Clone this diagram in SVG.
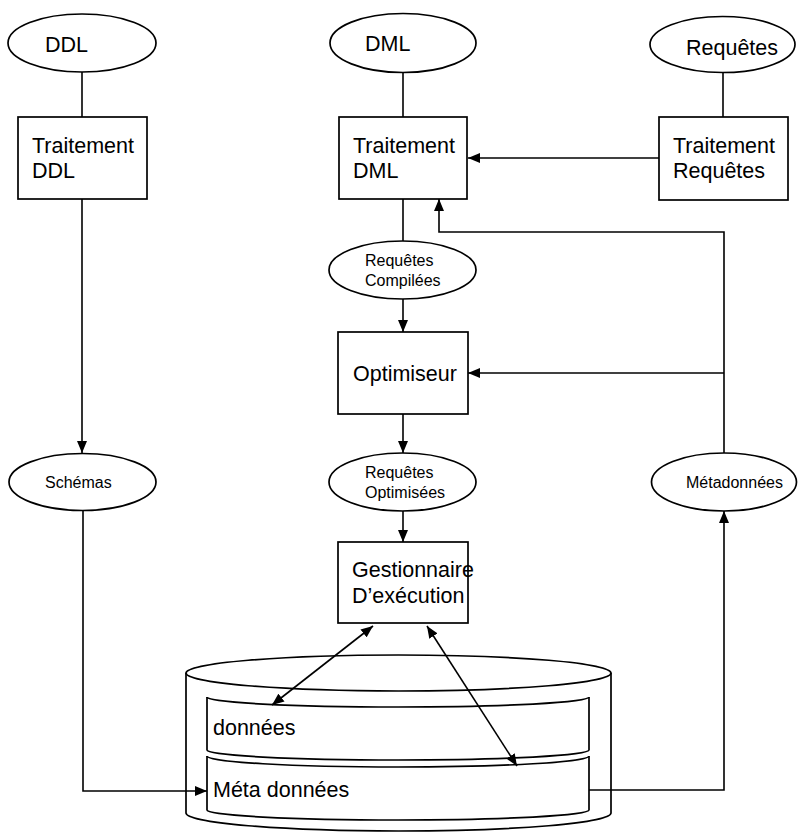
<svg xmlns="http://www.w3.org/2000/svg" width="800" height="838" viewBox="0 0 800 838">
<style>
.s{fill:#fff;stroke:#000;stroke-width:1.7}
.n{fill:none;stroke:#000;stroke-width:1.7}
.c{fill:none;stroke:#000;stroke-width:1.6}
.a{marker-end:url(#ah)}
.b{marker-end:url(#ah);marker-start:url(#ah)}
text{font-family:"Liberation Sans",Arial,sans-serif;fill:#000}
.L{font-size:21.5px}
.S{font-size:16px}
</style>
<defs>
<marker id="ah" viewBox="0 0 12 10" refX="12" refY="5" markerWidth="12" markerHeight="10" markerUnits="userSpaceOnUse" orient="auto-start-reverse">
<path d="M0,0 L12,5 L0,10 Z" fill="#000"/>
</marker>
</defs>
<rect width="800" height="838" fill="#fff"/>

<g id="ddl"><ellipse class="s" cx="82" cy="43" rx="74" ry="29"/><text class="L" x="45" y="52">DDL</text></g>
<g id="dml"><ellipse class="s" cx="403" cy="43" rx="73" ry="29.5"/><text class="L" x="365" y="51">DML</text></g>
<g id="requetes"><ellipse class="s" cx="722.5" cy="44.5" rx="72.5" ry="28"/><text class="L" x="686" y="55">Requêtes</text></g>

<g id="traitement-ddl"><rect class="s" x="18" y="117" width="129" height="82"/><text class="L" x="32" y="153">Traitement</text><text class="L" x="32" y="178">DDL</text></g>
<g id="traitement-dml"><rect class="s" x="339" y="117" width="128" height="82"/><text class="L" x="353" y="153">Traitement</text><text class="L" x="353" y="178">DML</text></g>
<g id="traitement-requetes"><rect class="s" x="659" y="117" width="129" height="83"/><text class="L" x="673" y="153">Traitement</text><text class="L" x="673" y="178">Requêtes</text></g>

<g id="requetes-compilees"><ellipse class="s" cx="402.5" cy="270" rx="73.5" ry="29"/><text class="S" x="365" y="266">Requêtes</text><text class="S" x="365" y="286">Compilées</text></g>
<g id="optimiseur"><rect class="s" x="338" y="332" width="130" height="82"/><text class="L" x="353" y="381">Optimiseur</text></g>
<g id="requetes-optimisees"><ellipse class="s" cx="402.5" cy="482" rx="73.5" ry="29"/><text class="S" x="365" y="478">Requêtes</text><text class="S" x="365" y="498">Optimisées</text></g>
<g id="gestionnaire"><rect class="s" x="338" y="542" width="130" height="81"/><text class="L" x="352" y="577">Gestionnaire</text><text class="L" x="352" y="603">D’exécution</text></g>

<g id="schemas"><ellipse class="s" cx="82.5" cy="482" rx="73.5" ry="28.5"/><text class="S" x="45" y="488">Schémas</text></g>
<g id="metadonnees"><ellipse class="s" cx="724" cy="482" rx="72.5" ry="29"/><text class="S" x="686" y="488">Métadonnées</text></g>

<g id="base">
<path class="n" d="M186,673 V813 A212.5,18 0 0 0 611,813 V673"/>
<ellipse class="n" cx="398.5" cy="673" rx="212.5" ry="18"/>
<g id="donnees">
<path class="n" d="M207,697 A191,10 0 0 0 589,697"/>
<path class="n" d="M207,697 V750 A191,10 0 0 0 589,750 V697"/>
<text class="L" x="213" y="735">données</text>
</g>
<g id="meta-donnees">
<path class="n" d="M207,756 A191,11 0 0 0 589,756"/>
<path class="n" d="M207,756 V810 A191,10 0 0 0 589,810 V756"/>
<text class="L" x="213" y="797">Méta données</text>
</g>
</g>

<g id="connectors">
<line class="c" x1="82" y1="72" x2="82" y2="117"/>
<line class="c" x1="403" y1="72.5" x2="403" y2="117"/>
<line class="c" x1="723" y1="72.5" x2="723" y2="117"/>
<line class="c a" x1="659" y1="158" x2="468" y2="158"/>
<line class="c a" x1="82" y1="199" x2="82" y2="453"/>
<line class="c" x1="403" y1="199" x2="403" y2="241"/>
<line class="c a" x1="403" y1="299" x2="403" y2="332"/>
<line class="c a" x1="403" y1="414" x2="403" y2="453"/>
<line class="c a" x1="403" y1="511" x2="403" y2="542"/>
<path class="c a" d="M724,453 V232 H439 V199"/>
<line class="c a" x1="724" y1="373" x2="468" y2="373"/>
<path class="c a" d="M83,510.5 V791 H207"/>
<path class="c a" d="M589,790 H724 V511"/>
<line class="c b" x1="373" y1="626" x2="272" y2="705"/>
<line class="c b" x1="427" y1="626" x2="517" y2="766"/>
</g>
</svg>
